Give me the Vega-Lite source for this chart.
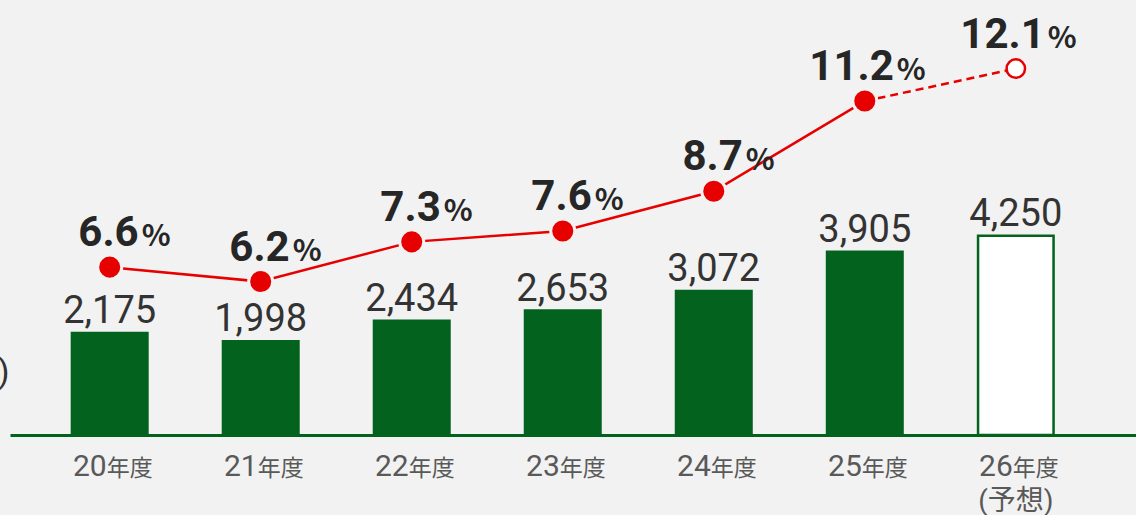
{
  "$schema": "https://vega.github.io/schema/vega-lite/v6.json",
  "width": 1126,
  "height": 435,
  "autosize": "none",
  "padding": {"left": 10, "top": 0, "right": 0, "bottom": 80},
  "background": "#f2f2f2",
  "config": {"view": {"stroke": null}, "font": "Roboto, Noto Sans CJK JP"},
  "data": {"values": [
    {"fy": "20", "unit": "年度", "note": "", "sales": 2175, "salesText": "2,175", "rate": 6.6, "rateText": "6.6", "forecast": false},
    {"fy": "21", "unit": "年度", "note": "", "sales": 1998, "salesText": "1,998", "rate": 6.2, "rateText": "6.2", "forecast": false},
    {"fy": "22", "unit": "年度", "note": "", "sales": 2434, "salesText": "2,434", "rate": 7.3, "rateText": "7.3", "forecast": false},
    {"fy": "23", "unit": "年度", "note": "", "sales": 2653, "salesText": "2,653", "rate": 7.6, "rateText": "7.6", "forecast": false},
    {"fy": "24", "unit": "年度", "note": "", "sales": 3072, "salesText": "3,072", "rate": 8.7, "rateText": "8.7", "forecast": false},
    {"fy": "25", "unit": "年度", "note": "", "sales": 3905, "salesText": "3,905", "rate": 11.2, "rateText": "11.2", "forecast": false},
    {"fy": "26", "unit": "年度", "note": "(予想)", "sales": 4250, "salesText": "4,250", "rate": 12.1, "rateText": "12.1", "forecast": true}
  ]},
  "encoding": {
    "x": {
      "field": "fy", "type": "nominal", "sort": null,
      "scale": {"paddingInner": 0.5, "paddingOuter": 0.478, "align": 0.429},
      "axis": {"title": null, "labels": false, "ticks": false, "domainColor": "#03621e", "domainWidth": 3, "grid": false}
    }
  },
  "layer": [
    {
      "mark": {"type": "bar", "stroke": "#03621e", "strokeWidth": 2.5},
      "encoding": {
        "y": {"field": "sales", "type": "quantitative", "scale": {"domain": [0, 9275]},
          "axis": {"labels": false, "ticks": false, "domain": false, "grid": false, "title": "(億円)", "titleAngle": 0, "titleAlign": "right", "titleBaseline": "middle", "titleX": -1, "titleY": 372, "titleFontSize": 34, "titleFontWeight": "normal", "titleColor": "#333333", "titleFont": "Roboto, Noto Sans CJK JP"}},
        "fill": {"condition": {"test": "datum.forecast", "value": "#ffffff"}, "value": "#03621e"}
      }
    },
    {
      "mark": {"type": "text", "fontSize": 38, "color": "#333333", "baseline": "alphabetic", "align": "center", "dy": -10},
      "encoding": {
        "y": {"field": "sales", "type": "quantitative", "scale": {"domain": [0, 9275]}, "axis": null},
        "text": {"field": "salesText"}
      }
    },
    {
      "mark": {"type": "text", "fontSize": 30, "color": "#595959", "baseline": "alphabetic", "align": "right", "dx": -3, "dy": 41},
      "encoding": {
        "y": {"datum": 0, "type": "quantitative", "scale": {"domain": [0, 9275]}, "axis": null},
        "text": {"field": "fy"}
      }
    },
    {
      "mark": {"type": "text", "fontSize": 23, "color": "#595959", "baseline": "alphabetic", "align": "left", "dx": -3, "dy": 41},
      "encoding": {
        "y": {"datum": 0, "type": "quantitative", "scale": {"domain": [0, 9275]}, "axis": null},
        "text": {"field": "unit"}
      }
    },
    {
      "mark": {"type": "text", "fontSize": 28, "color": "#595959", "baseline": "alphabetic", "align": "center", "dy": 75},
      "encoding": {
        "y": {"datum": 0, "type": "quantitative", "scale": {"domain": [0, 9275]}, "axis": null},
        "text": {"field": "note"}
      }
    },
    {
      "transform": [{"filter": "!datum.forecast"}],
      "mark": {"type": "line", "color": "#e60000", "strokeWidth": 2.5},
      "encoding": {
        "y": {"field": "rate", "type": "quantitative", "scale": {"domain": [1.95, 14.0], "zero": false}, "axis": null}
      }
    },
    {
      "transform": [{"filter": "datum.fy === '25' || datum.fy === '26'"}],
      "mark": {"type": "line", "color": "#e60000", "strokeWidth": 2.5, "strokeDash": [8, 5]},
      "encoding": {
        "y": {"field": "rate", "type": "quantitative", "scale": {"domain": [1.95, 14.0], "zero": false}, "axis": null}
      }
    },
    {
      "transform": [{"filter": "!datum.forecast"}],
      "mark": {"type": "point", "shape": "circle", "filled": true, "fill": "#e60000", "stroke": "#f2f2f2", "strokeWidth": 3, "size": 580, "opacity": 1},
      "encoding": {
        "y": {"field": "rate", "type": "quantitative", "scale": {"domain": [1.95, 14.0], "zero": false}, "axis": null}
      }
    },
    {
      "transform": [{"filter": "datum.forecast"}],
      "mark": {"type": "point", "shape": "circle", "filled": true, "fill": "#ffffff", "stroke": "#e60000", "strokeWidth": 2.5, "size": 340, "opacity": 1},
      "encoding": {
        "y": {"field": "rate", "type": "quantitative", "scale": {"domain": [1.95, 14.0], "zero": false}, "axis": null}
      }
    },
    {
      "mark": {"type": "text", "fontSize": 42, "fontWeight": "bold", "color": "#262626", "baseline": "alphabetic", "align": "right", "dx": 29, "dy": -21},
      "encoding": {
        "y": {"field": "rate", "type": "quantitative", "scale": {"domain": [1.95, 14.0], "zero": false}, "axis": null},
        "text": {"field": "rateText"}
      }
    },
    {
      "mark": {"type": "text", "font": "Noto Sans CJK JP", "fontSize": 30, "fontWeight": "bold", "color": "#262626", "baseline": "alphabetic", "align": "left", "dx": 32, "dy": -21},
      "encoding": {
        "y": {"field": "rate", "type": "quantitative", "scale": {"domain": [1.95, 14.0], "zero": false}, "axis": null},
        "text": {"value": "%"}
      }
    }
  ],
  "resolve": {"scale": {"y": "independent"}}
}
